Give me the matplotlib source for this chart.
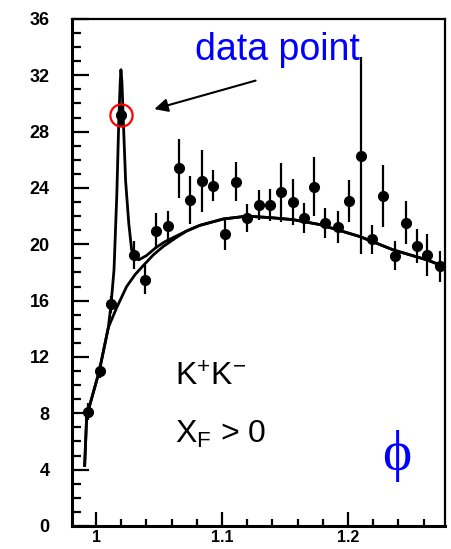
import matplotlib
matplotlib.use("Agg")
import matplotlib.pyplot as plt
from matplotlib.ticker import MultipleLocator

plt.rcParams['mathtext.fontset'] = 'custom'
plt.rcParams['mathtext.rm'] = 'Liberation Sans'
plt.rcParams['mathtext.it'] = 'Liberation Sans:italic'

# measured K+K- mass spectrum (GeV), counts
mass = [0.994, 1.003, 1.012, 1.020, 1.030, 1.039, 1.048, 1.057, 1.066, 1.075,
        1.084, 1.093, 1.102, 1.111, 1.120, 1.129, 1.138, 1.147, 1.156, 1.165,
        1.173, 1.182, 1.192, 1.201, 1.210, 1.219, 1.228, 1.237, 1.246, 1.255,
        1.263, 1.273]
counts = [8.1, 11.0, 15.75, 29.2, 19.25, 17.5, 20.95, 21.3, 25.4, 23.15,
          24.5, 24.15, 20.7, 24.45, 21.85, 22.8, 22.8, 23.7, 23.0, 21.85,
          24.1, 21.5, 21.25, 23.1, 26.3, 20.35, 23.4, 19.2, 21.55, 19.9,
          19.25, 18.45]
errors = [0.6, 0.5, 0.6, 0.8, 1.0, 1.0, 1.25, 1.1, 2.1, 1.7,
          2.2, 1.1, 1.1, 1.4, 1.0, 1.05, 1.15, 2.1, 1.65, 1.05,
          2.1, 1.05, 1.15, 1.5, 7.0, 1.05, 2.2, 1.05, 1.55, 1.2,
          1.5, 1.1]

# fit curves
fit_x = [0.9910, 0.9926, 1.0026, 1.0098, 1.0120, 1.0143, 1.0165, 1.0180, 1.0192,
         1.0198, 1.0206, 1.0218, 1.0235, 1.0260, 1.0283, 1.0310, 1.0340, 1.0400,
         1.0480, 1.0550, 1.0640, 1.0720, 1.0825, 1.1010, 1.1196, 1.1380, 1.1566,
         1.1778, 1.2095, 1.2360, 1.2625, 1.2770]
fit_y = [4.3, 7.8, 11.0, 14.1, 15.8, 18.2, 23.5, 28.5, 31.5,
         32.4, 31.5, 28.5, 24.5, 21.5, 19.6, 19.0, 18.9, 19.2,
         19.8, 20.2, 20.6, 20.95, 21.35, 21.8, 22.0, 21.9, 21.75,
         21.4, 20.55, 19.6, 18.9, 18.4]

bg_x = [0.9910, 0.9926, 1.0026, 1.0098, 1.0164, 1.0243, 1.0310, 1.0376, 1.0455,
        1.0534, 1.0640, 1.0720, 1.0825, 1.1010, 1.1196, 1.1380, 1.1566, 1.1778,
        1.2095, 1.2360, 1.2625, 1.2770]
bg_y = [4.3, 7.8, 11.0, 14.1, 15.5, 17.0, 17.85, 18.5, 19.25,
        19.85, 20.5, 20.95, 21.35, 21.8, 22.0, 21.9, 21.75, 21.4,
        20.55, 19.6, 18.9, 18.4]

fig = plt.figure(figsize=(4.52, 5.49), dpi=100)
ax = fig.add_axes([0.1593, 0.0419, 0.8252, 0.9235])

ax.plot(fit_x, fit_y, color="black", lw=2.0)
ax.plot(bg_x, bg_y, color="black", lw=2.0)
ax.errorbar(mass, counts, yerr=errors, fmt="o", color="black", ms=7,
            elinewidth=1.6, capsize=0)

# red circle marking the highlighted point
ax.plot(mass[3], counts[3], "o", mfc="none", mec="red", ms=16, mew=1.6)

ax.set_xlim(0.98095, 1.277)
ax.set_ylim(0, 36)
ax.xaxis.set_major_locator(MultipleLocator(0.1))
ax.xaxis.set_minor_locator(MultipleLocator(0.02))
ax.yaxis.set_major_locator(MultipleLocator(4))
ax.yaxis.set_minor_locator(MultipleLocator(1))
ax.set_xticks([1, 1.1, 1.2])
ax.set_xticklabels(["1", "1.1", "1.2"])

for s in ax.spines.values():
    s.set_linewidth(1.6)
ax.spines["left"].set_linewidth(2.2)
ax.spines["bottom"].set_linewidth(2.2)

ax.tick_params(axis="y", which="major", direction="in", length=12, width=1.6,
               pad=16, labelsize=13)
ax.tick_params(axis="y", which="minor", direction="in", length=6.5, width=1.6)
ax.tick_params(axis="x", which="major", direction="in", length=10, width=1.6,
               pad=3, labelsize=11.5)
ax.tick_params(axis="x", which="minor", direction="in", length=5, width=1.6)
for lab in ax.get_xticklabels() + ax.get_yticklabels():
    lab.set_fontweight("bold")
    lab.set_family("Liberation Sans")

ax.text(1.0786, 33.1, "data point", color="blue", fontsize=27,
        family="Liberation Sans", va="baseline")
ax.annotate("", xy=(1.0442, 29.55), xytext=(1.1288, 31.68),
            arrowprops=dict(arrowstyle="-|>", color="black", lw=1.5,
                            mutation_scale=20))

ax.text(1.0627, 10.0, r"K$^{+}$K$^{-}$", fontsize=23, family="Liberation Sans",
        va="baseline")
ax.text(1.0627, 5.9, r"X$_{\mathrm{F}}$ > 0", fontsize=23, family="Liberation Sans",
        va="baseline")
ax.text(1.2386, 4.97, "\u03d5", color="blue", fontsize=40, family="Liberation Serif",
        ha="center", va="center")

fig.savefig("out.png", dpi=100)
